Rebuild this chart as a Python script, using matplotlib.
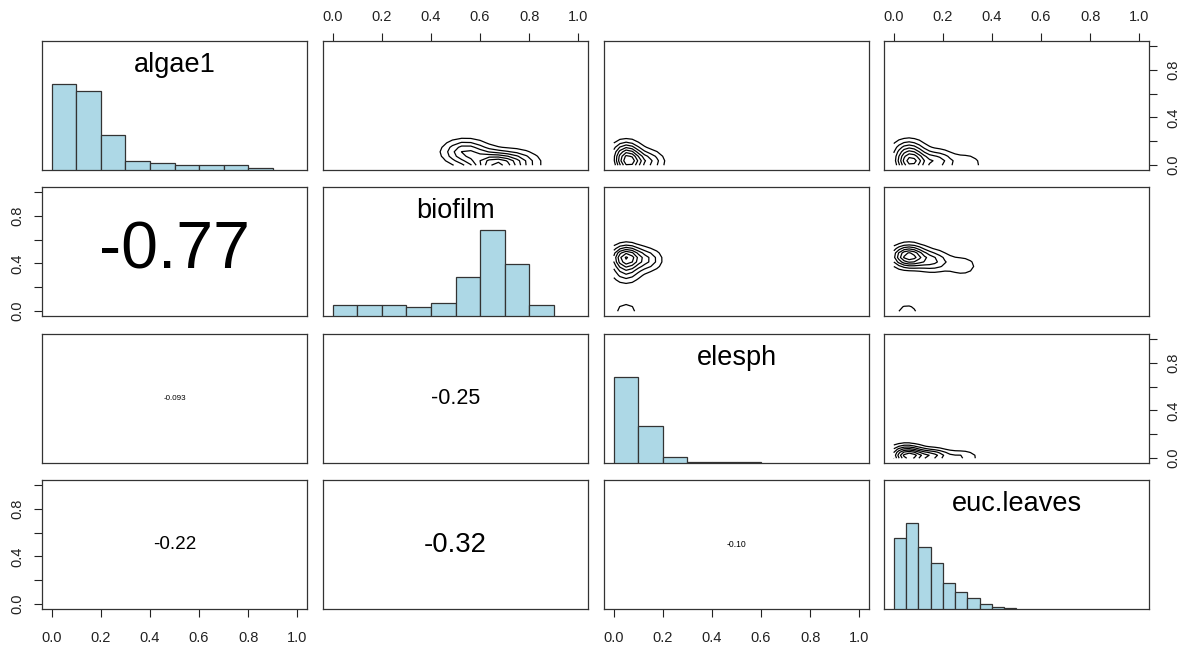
import numpy as np
import matplotlib
matplotlib.use("Agg")
import matplotlib.pyplot as plt
from matplotlib.ticker import MaxNLocator, FuncFormatter

plt.rcParams['font.family'] = ['Liberation Sans', 'DejaVu Sans']

# ---------------- data ----------------
variables = ["algae1", "biofilm", "elesph", "euc.leaves"]

# diagonal histograms: first bin start, bin width, counts
hist_start = [0.0, 0.0, 0.0, 0.0]
hist_width = [0.1, 0.1, 0.1, 0.05]
algae1_counts = [37, 34, 15, 4, 3, 2, 2, 2, 1]
biofilm_counts = [5, 5, 5, 4, 6, 18, 40, 24, 5]
elesph_counts = [86, 37, 6, 1, 1, 1]
euc_leaves_counts = [71, 86, 62, 46, 26, 17, 11, 5, 2, 1]
hist_counts = [algae1_counts, biofilm_counts, elesph_counts, euc_leaves_counts]

# lower panels: correlations (row, col, r, label)
cor_rows = [1, 2, 2, 3, 3, 3]
cor_cols = [0, 0, 1, 0, 1, 2]
cor_values = [-0.77, -0.093, -0.25, -0.22, -0.32, -0.10]
cor_labels = ["-0.77", "-0.093", "-0.25", "-0.22", "-0.32", "-0.10"]

# variable ranges (used for the density grids)
var_min = [0.0, 0.0, 0.0, 0.0]
var_max = [0.9, 0.9, 0.6, 0.5]

# upper panels: weighted point clusters (x, y, weight) for the 2-D density
dens_rows = [0, 0, 0, 1, 1, 2]
dens_cols = [1, 2, 3, 2, 3, 3]
dens_cx = [[0.66, 0.54, 0.76],
           [0.06, 0.05, 0.15],
           [0.07, 0.06, 0.18, 0.30],
           [0.05, 0.14, 0.05, 0.05],
           [0.06, 0.16, 0.28, 0.055],
           [0.06, 0.16, 0.28, 0.05]]
dens_cy = [[0.0, 0.11, 0.02],
           [0.02, 0.12, 0.03],
           [0.02, 0.13, 0.03, 0.01],
           [0.45, 0.43, 0.32, 0.0],
           [0.46, 0.42, 0.38, 0.0],
           [0.01, 0.02, 0.01, 0.07]]
dens_w = [[1.0, 0.6, 0.4],
          [1.0, 0.5, 0.4],
          [1.0, 0.45, 0.5, 0.25],
          [1.0, 0.4, 0.35, 0.22],
          [1.0, 0.45, 0.25, 0.2],
          [1.0, 0.6, 0.3, 0.4]]
dens_sx = [0.06, 0.04, 0.045, 0.04, 0.045, 0.045]
dens_sy = [0.07, 0.065, 0.065, 0.065, 0.06, 0.04]

# ---------------- layout ----------------
W, H = 1192, 650
fig = plt.figure(figsize=(W / 100, H / 100), dpi=100)
col_left = [42, 323, 604, 884]
row_top = [41, 187, 334, 480]
pw, ph = 265, 129
lim = (-0.04, 1.04)
ticks = [0.0, 0.2, 0.4, 0.6, 0.8, 1.0]

axes = {}
for r in range(4):
    for c in range(4):
        ax = fig.add_axes([col_left[c] / W, 1 - (row_top[r] + ph) / H, pw / W, ph / H])
        ax.set_xlim(lim)
        ax.set_ylim(lim)
        ax.set_xticks([])
        ax.set_yticks([])
        for s in ax.spines.values():
            s.set_linewidth(0.9)
            s.set_color('#333333')
        axes[(r, c)] = ax

fmt_all = FuncFormatter(lambda v, p: f"{v:.1f}")
fmt_alt = FuncFormatter(lambda v, p: f"{v:.1f}" if round(v * 10) % 4 == 0 else "")

def style_ticks(ax, axis, pad):
    ax.tick_params(axis=axis, direction='out', length=5.5, width=0.8,
                   labelsize=10.5, colors='#222222', pad=pad)

for c in [1, 3]:
    ax = axes[(0, c)]
    ax.xaxis.tick_top()
    ax.set_xticks(ticks)
    ax.xaxis.set_major_formatter(fmt_all)
    style_ticks(ax, 'x', 6.5)
for c in [0, 2]:
    ax = axes[(3, c)]
    ax.set_xticks(ticks)
    ax.xaxis.set_major_formatter(fmt_all)
    style_ticks(ax, 'x', 10)
for r in [1, 3]:
    ax = axes[(r, 0)]
    ax.set_yticks(ticks)
    ax.yaxis.set_major_formatter(fmt_alt)
    style_ticks(ax, 'y', 7)
    for t in ax.get_yticklabels():
        t.set_rotation(90)
        t.set_va('center')
for r in [0, 2]:
    ax = axes[(r, 3)]
    ax.yaxis.tick_right()
    ax.set_yticks(ticks)
    ax.yaxis.set_major_formatter(fmt_alt)
    style_ticks(ax, 'y', 7)
    for t in ax.get_yticklabels():
        t.set_rotation(90)
        t.set_va('center')

# diagonal: histograms + names
for i, name in enumerate(variables):
    ax = axes[(i, i)].twinx()
    ax.set_position(axes[(i, i)].get_position())
    ax.set_ylim(0, 1.5)
    ax.axis('off')
    counts = np.array(hist_counts[i], dtype=float)
    heights = counts / counts.max()
    lefts = hist_start[i] + hist_width[i] * np.arange(len(counts))
    ax.bar(lefts, heights, width=hist_width[i], align='edge', bottom=0,
           color='#ADD8E6', edgecolor='#333333', linewidth=0.9)
    axes[(i, i)].text(0.5, 0.76, name, transform=axes[(i, i)].transAxes,
                      ha='center', va='baseline', fontsize=19.5, color='black')

# lower: correlations, size proportional to |r|
for r, c, v, lab in zip(cor_rows, cor_cols, cor_values, cor_labels):
    axes[(r, c)].text(0.5, 0.5, lab, transform=axes[(r, c)].transAxes,
                      ha='center', va='center', fontsize=62 * abs(v), color='black')

# upper: density contours from weighted clusters on a 25x25 grid over the data range
for k in range(len(dens_rows)):
    r, c = dens_rows[k], dens_cols[k]
    gx = np.linspace(var_min[c], var_max[c], 25)
    gy = np.linspace(var_min[r], var_max[r], 25)
    X, Y = np.meshgrid(gx, gy)
    Z = np.zeros_like(X)
    for cx, cy, w in zip(dens_cx[k], dens_cy[k], dens_w[k]):
        Z += w * np.exp(-0.5 * ((X - cx) / dens_sx[k]) ** 2 - 0.5 * ((Y - cy) / dens_sy[k]) ** 2)
    levels = MaxNLocator(8).tick_values(Z.min(), Z.max())
    levels = levels[(levels > 0) & (levels < Z.max())]
    axes[(r, c)].contour(X, Y, Z, levels=levels, colors='black', linewidths=0.9)

fig.savefig("out.png", dpi=100)
